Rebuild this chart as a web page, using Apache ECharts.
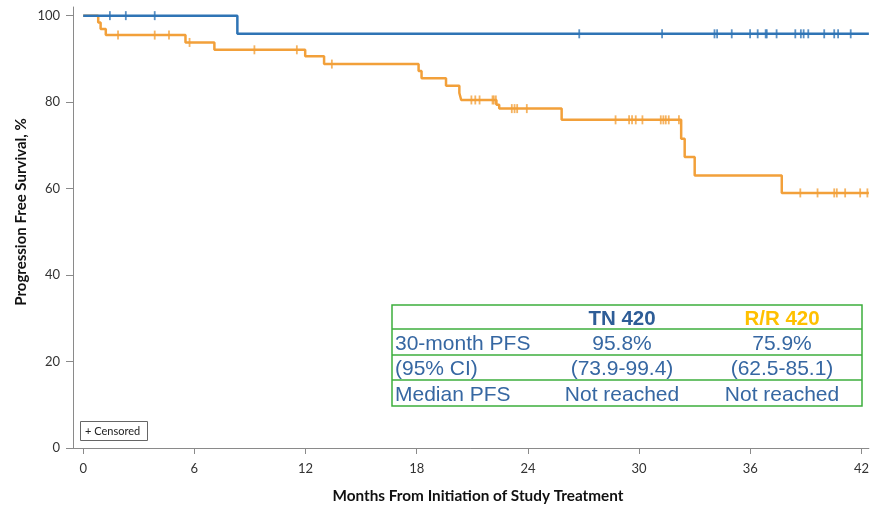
<!DOCTYPE html>
<html>
<head>
<meta charset="utf-8">
<script src="https://cdn.jsdelivr.net/npm/echarts@6/dist/echarts.min.js"></script>
<style>
  html, body { margin: 0; padding: 0; background: #fff; }
  #chart { width: 872px; height: 506px; }
</style>
</head>
<body>
<div id="chart"></div>
<script>
// Kaplan-Meier progression-free survival, ibrutinib 420 mg cohorts
// Event times (months) and survival (%) after each step
const tnTimes = [0, 8.32];
const tnSurv = [100, 95.8];
const tnCensored = [1.44, 2.30, 3.86, 26.77, 31.24, 34.07, 34.21, 35.0, 35.99, 36.40,
  36.83, 36.89, 37.42, 38.43, 38.73, 38.88, 39.13, 39.99, 40.53, 40.74, 41.42];

const rrTimes = [0, 0.81, 0.94, 1.22, 5.52, 7.08, 11.98, 13.0, 18.1, 18.26, 19.58,
  20.3, 20.4, 22.3, 22.45, 25.82, 32.27, 32.46, 33.0, 37.7];
const rrSurv = [100, 98.4, 96.9, 95.5, 93.8, 92.1, 90.6, 88.8, 87.2, 85.5, 83.8,
  82.1, 80.5, 79.4, 78.5, 75.9, 71.5, 67.3, 63.0, 59.0];
const rrCensored = [1.88, 3.86, 4.63, 5.74, 9.24, 11.53, 13.42, 20.95, 21.16, 21.39,
  22.09, 22.16, 22.27, 23.13, 23.28, 23.42, 23.94, 28.73, 29.46, 29.62, 29.82, 30.18,
  31.17, 31.31, 31.44, 31.6, 32.15, 38.7, 39.63, 40.53, 40.67, 41.12, 41.93, 42.32];

const followUpEnd = 42.4;

const xTicks = [0, 6, 12, 18, 24, 30, 36, 42];
const yTicks = [0, 20, 40, 60, 80, 100];

const xTitle = 'Months From Initiation of Study Treatment';
const yTitle = 'Progression Free Survival, %';

const tableHeader = ['', 'TN 420', 'R/R 420'];
const tableRows = [
  ['30-month PFS', '95.8%', '75.9%'],
  ['(95% CI)', '(73.9-99.4)', '(62.5-85.1)'],
  ['Median PFS', 'Not reached', 'Not reached']
];

const BLUE = '#2f74b5';
const ORANGE = '#f2a03a';

function stepPoints(times, surv) {
  const pts = times.map((t, i) => [t, surv[i]]);
  pts.push([followUpEnd, surv[surv.length - 1]]);
  return pts;
}
function survivalAt(times, surv, t) {
  let s = surv[0];
  for (let i = 0; i < times.length; i++) if (times[i] <= t) s = surv[i];
  return s;
}
function censorPoints(times, surv, cens) {
  return cens.map(t => [t, survivalAt(times, surv, t)]);
}

// table geometry
const tLeft = 392, tRight = 862;
const rowLines = [305, 329, 355, 380, 406];
const colCenters = [0, 622, 782];
const tableGreen = '#3dae3d';
const textBlue = '#3667a2';
const tableFont = '"Liberation Sans", Arial, sans-serif';

const graphics = [];
graphics.push({
  type: 'rect', z: 10,
  shape: { x: tLeft, y: rowLines[0], width: tRight - tLeft, height: rowLines[4] - rowLines[0] },
  style: { fill: '#fff', stroke: tableGreen, lineWidth: 1.5 }
});
for (let i = 1; i < rowLines.length - 1; i++) {
  graphics.push({
    type: 'line', z: 11,
    shape: { x1: tLeft, y1: rowLines[i], x2: tRight, y2: rowLines[i] },
    style: { stroke: tableGreen, lineWidth: 1.5 }
  });
}
const allRows = [tableHeader].concat(tableRows);
allRows.forEach((row, r) => {
  const cy = (rowLines[r] + rowLines[r + 1]) / 2 + 2;
  row.forEach((txt, c) => {
    if (!txt) return;
    const header = r === 0;
    graphics.push({
      type: 'text', z: 12,
      x: c === 0 ? 395 : colCenters[c], y: cy,
      style: {
        text: txt,
        fontFamily: tableFont,
        fontSize: header ? 20.5 : 21,
        fontWeight: header ? 'bold' : 'normal',
        fill: header ? (c === 1 ? '#2e5d97' : '#ffc000') : textBlue,
        align: c === 0 ? 'left' : 'center',
        verticalAlign: 'middle'
      }
    });
  });
});
// censor key
graphics.push({
  type: 'rect', z: 10,
  shape: { x: 80.5, y: 421.5, width: 67, height: 19 },
  style: { fill: '#fff', stroke: '#666', lineWidth: 1 }
});
graphics.push({
  type: 'text', z: 11, x: 85, y: 431.5,
  style: { text: '+ Censored', fontFamily: 'Lato, sans-serif', fontSize: 11, fill: '#222', align: 'left', verticalAlign: 'middle' }
});
// axis titles
graphics.push({
  type: 'text', z: 5, x: 478, y: 496,
  style: { text: xTitle, fontFamily: 'Lato, sans-serif', fontSize: 15.3, fontWeight: 'bold', fill: '#111', align: 'center', verticalAlign: 'middle' }
});
graphics.push({
  type: 'text', z: 5, x: 21, y: 212, rotation: Math.PI / 2,
  style: { text: yTitle, fontFamily: 'Lato, sans-serif', fontSize: 15, fontWeight: 'bold', fill: '#111', align: 'center', verticalAlign: 'middle' }
});

const chart = echarts.init(document.getElementById('chart'), null, { renderer: 'canvas' });
chart.setOption({
  animation: false,
  backgroundColor: '#fff',
  grid: { left: 73, right: 0, top: 7, bottom: 58, containLabel: false },
  xAxis: {
    type: 'value', min: -0.55, max: followUpEnd,
    axisLine: { onZero: false, lineStyle: { color: '#8a8a8a', width: 1 } },
    axisTick: { show: true, length: 6, lineStyle: { color: '#8a8a8a' }, customValues: xTicks },
    axisLabel: { fontFamily: 'Lato, sans-serif', fontSize: 13, color: '#333', margin: 14, customValues: xTicks },
    splitLine: { show: false }
  },
  yAxis: {
    type: 'value', min: 0, max: 102,
    axisLine: { show: true, onZero: false, lineStyle: { color: '#8a8a8a', width: 1 } },
    axisTick: { show: true, length: 7, lineStyle: { color: '#8a8a8a' }, customValues: yTicks },
    axisLabel: { fontFamily: 'Lato, sans-serif', fontSize: 13, color: '#333', margin: 13, customValues: yTicks },
    splitLine: { show: false }
  },
  series: [
    {
      name: 'R/R 420', type: 'line', step: 'end', showSymbol: false,
      data: stepPoints(rrTimes, rrSurv),
      lineStyle: { color: ORANGE, width: 2.5 }, z: 2
    },
    {
      name: 'TN 420', type: 'line', step: 'end', showSymbol: false,
      data: stepPoints(tnTimes, tnSurv),
      lineStyle: { color: BLUE, width: 2.5 }, z: 3
    },
    {
      name: 'R/R 420 censored', type: 'scatter', symbol: 'rect', symbolSize: [1.8, 9],
      data: censorPoints(rrTimes, rrSurv, rrCensored),
      itemStyle: { color: ORANGE }, z: 4
    },
    {
      name: 'TN 420 censored', type: 'scatter', symbol: 'rect', symbolSize: [1.8, 9],
      data: censorPoints(tnTimes, tnSurv, tnCensored),
      itemStyle: { color: BLUE }, z: 5
    }
  ],
  graphic: graphics
});
</script>
</body>
</html>
